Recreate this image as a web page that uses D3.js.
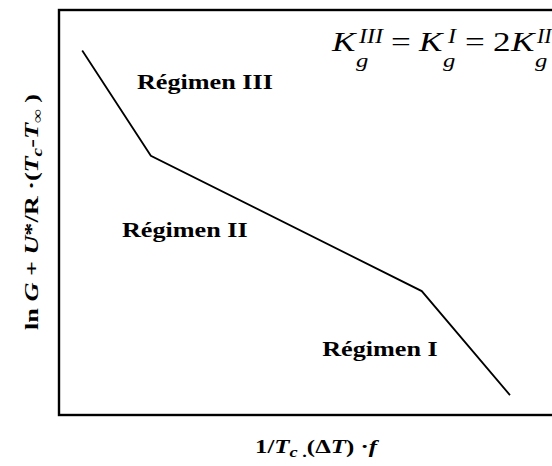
<!DOCTYPE html>
<html>
<head>
<meta charset="utf-8">
<script src="https://cdn.jsdelivr.net/npm/d3@7"></script>
<style>
  html, body { margin: 0; padding: 0; background: #fff; }
  svg { display: block; }
  text { font-family: "Liberation Serif", "Times New Roman", serif; fill: #000; }
</style>
</head>
<body>
<svg id="chart" width="552" height="466"></svg>
<script>
// Piecewise-linear schematic: three growth regimes
const xValues = [0.45, 1.78, 7.03, 8.74];
const yValues = [9.0, 6.4, 3.06, 0.49];
const regimeLabels = ["Régimen III", "Régimen II", "Régimen I"];
const regimeX = [1.51, 1.22, 5.10];
const regimeY = [8.05, 4.40, 1.46];

const box = { left: 59, top: 10, right: 575, bottom: 415 };
const stretch = 1.19;   // wide set of the serif lettering

const svg = d3.select("#chart");

const x = d3.scaleLinear().domain([0, 10]).range([box.left, box.right]);
const y = d3.scaleLinear().domain([0, 10]).range([box.bottom, box.top]);

// Frame
svg.append("rect")
  .attr("x", box.left).attr("y", box.top)
  .attr("width", box.right - box.left).attr("height", box.bottom - box.top)
  .attr("fill", "none").attr("stroke", "#000").attr("stroke-width", 2.4);

// Curve
const pts = xValues.map((v, i) => [v, yValues[i]]);
svg.append("path")
  .datum(pts)
  .attr("d", d3.line().x(d => x(d[0])).y(d => y(d[1])))
  .attr("fill", "none").attr("stroke", "#000").attr("stroke-width", 1.8);

// Regime labels
svg.selectAll("text.regime")
  .data(regimeLabels)
  .enter().append("text")
  .attr("class", "regime")
  .attr("transform", (d, i) => `translate(${x(regimeX[i])},${y(regimeY[i])}) scale(${stretch},1)`)
  .attr("font-size", 22)
  .attr("font-weight", "bold")
  .text(d => d);

// Rate-constant relation, set piece by piece
const eqPieces = [
  { t: "K", x: 332, y: 51, fs: 27, sx: 1.3 },
  { t: "g", x: 356, y: 67, fs: 19, sx: 1.3 },
  { t: "III", x: 359, y: 43, fs: 20, sx: 1.2 },
  { t: "=", x: 391, y: 51, fs: 27, sx: 1.3, up: true },
  { t: "K", x: 419, y: 51, fs: 27, sx: 1.3 },
  { t: "g", x: 443, y: 67, fs: 19, sx: 1.3 },
  { t: "I", x: 448, y: 43, fs: 20, sx: 1.2 },
  { t: "=", x: 465, y: 51, fs: 27, sx: 1.3, up: true },
  { t: "2", x: 493, y: 51, fs: 27, sx: 1.3, up: true },
  { t: "K", x: 511, y: 51, fs: 27, sx: 1.3 },
  { t: "g", x: 535, y: 67, fs: 19, sx: 1.3 },
  { t: "II", x: 537, y: 43, fs: 20, sx: 1.1 }
];
svg.selectAll("text.eq")
  .data(eqPieces)
  .enter().append("text")
  .attr("class", "eq")
  .attr("transform", d => `translate(${d.x},${d.y}) scale(${d.sx},1)`)
  .attr("font-size", d => d.fs)
  .attr("font-style", d => d.up ? "normal" : "italic")
  .text(d => d.t);

function addRich(parent, parts) {
  parts.forEach(p => {
    const t = parent.append("tspan").text(p.t);
    if (p.i) t.attr("font-style", "italic");
    if (p.dy) t.attr("dy", p.dy);
    if (p.fs) t.attr("font-size", p.fs);
  });
}

// Axis titles
const xt = svg.append("text")
  .attr("transform", "translate(316,453) scale(1.31,1)")
  .attr("text-anchor", "middle").attr("font-size", 19).attr("font-weight", "bold");
addRich(xt, [
  { t: "1/" },
  { t: "T", i: true },
  { t: "c", i: true, fs: 14, dy: 4 },
  { t: " .", fs: 14 },
  { t: "(Δ", dy: -4 },
  { t: "T", i: true },
  { t: ") ·" },
  { t: "f", i: true }
]);

const yt = svg.append("text")
  .attr("transform", "translate(38,212) rotate(-90) scale(1.38,1)")
  .attr("text-anchor", "middle").attr("font-size", 19).attr("font-weight", "bold");
addRich(yt, [
  { t: "ln " },
  { t: "G", i: true },
  { t: " + " },
  { t: "U", i: true },
  { t: "*/R ·(" },
  { t: "T", i: true },
  { t: "c", i: true, fs: 14, dy: 4 },
  { t: "-", dy: -4 },
  { t: "T", i: true },
  { t: "∞", fs: 14, dy: 4 },
  { t: " )", dy: -4 }
]);
</script>
</body>
</html>
